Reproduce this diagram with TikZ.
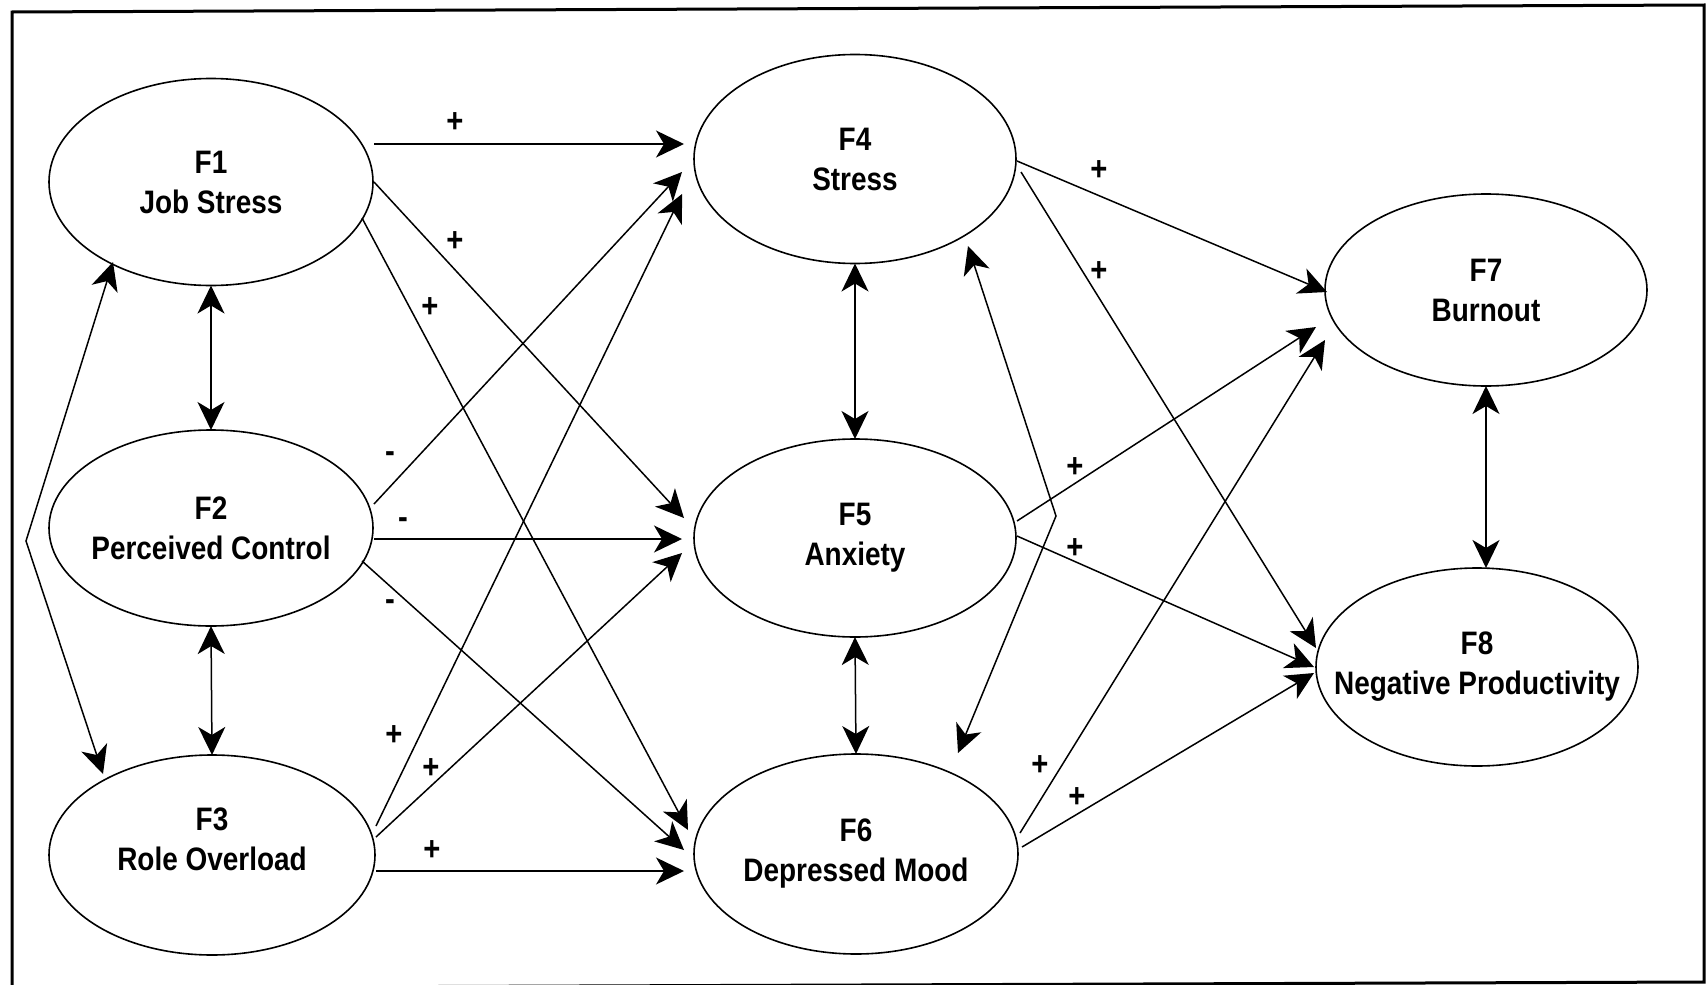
\documentclass[tikz,border=0pt]{standalone}
\usepackage{fontspec}
\setmainfont{Liberation Sans}[FakeStretch=0.86]
\usetikzlibrary{arrows.meta,calc,shapes.geometric}
\begin{document}
\begin{tikzpicture}[x=1pt,y=-1pt,
  fac/.style={draw, ellipse, line width=1.6pt, inner sep=0pt, outer sep=0pt},
  lab/.style={align=center, font=\fontsize{32.5}{40}\selectfont\bfseries, inner sep=0pt},
  sgn/.style={font=\fontsize{34}{34}\selectfont\bfseries, inner sep=0pt},
  arr/.style={line width=1.5pt, -{Stealth[length=28pt,width=27pt,inset=8pt]}},
  dbl/.style={line width=1.5pt, {Stealth[length=28pt,width=27pt,inset=8pt]}-{Stealth[length=28pt,width=27pt,inset=8pt]}},
]
\useasboundingbox (0,0) rectangle (1708,985);
% outer frame
\draw[line width=3pt] (12,12) -- (1704,5) -- (1704,982) -- (12,988) -- cycle;

% factors
\node[fac, minimum width=324pt, minimum height=207pt] (F1) at (211,182) {};
\node[fac, minimum width=324pt, minimum height=196pt] (F2) at (211,528) {};
\node[fac, minimum width=326pt, minimum height=200pt] (F3) at (212,855) {};
\node[fac, minimum width=322pt, minimum height=209pt] (F4) at (855,159) {};
\node[fac, minimum width=322pt, minimum height=198pt] (F5) at (855,538) {};
\node[fac, minimum width=324pt, minimum height=200pt] (F6) at (856,854) {};
\node[fac, minimum width=322pt, minimum height=192pt] (F7) at (1486,290) {};
\node[fac, minimum width=322pt, minimum height=198pt] (F8) at (1477,667) {};

\node[lab] (T1) at (F1) {F1\\Job Stress};
\node[lab] (T2) at (F2) {F2\\Perceived Control};
\node[lab] (T3) at ([yshift=16pt]F3.center) {F3\\Role Overload};
\node[lab] (T4) at (F4) {F4\\Stress};
\node[lab] (T5) at (F5) {F5\\Anxiety};
\node[lab] (T6) at (F6) {F6\\Depressed Mood};
\node[lab] (T7) at (F7) {F7\\Burnout};
\node[lab] (T8) at (F8) {F8\\Negative Productivity};

% correlations between factors
\draw[dbl] (F1.south) -- (F2.north);
\draw[dbl] (F2.south) -- (F3.north);
\draw[dbl] (F4.south) -- (F5.north);
\draw[dbl] (F5.south) -- (F6.north);
\draw[dbl] (F7.south) -- (F7.south |- F8.north);
\coordinate (lb) at (26,541);
\draw[dbl] ([shift={(-98,80)}]F1.center) -- (lb) -- ([shift={(-109,-81)}]F3.center);
\coordinate (rb) at (1056,516);
\draw[dbl] ([shift={(113,87)}]F4.center) -- (rb) -- ([shift={(102,-101)}]F6.center);

% paths from the work factors
\draw[arr] ([shift={(163,-38)}]F1.center) -- ([shift={(-171,-15)}]F4.center);
\draw[arr] ([shift={(163,0)}]F1.center) -- ([shift={(-171,-20)}]F5.center);
\draw[arr] ([shift={(151,36)}]F1.center) -- ([shift={(-168,-24)}]F6.center);
\draw[arr] ([shift={(163,-24)}]F2.center) -- ([shift={(-173,13)}]F4.center);
\draw[arr] ([shift={(163,11)}]F2.center) -- ([shift={(-173,1)}]F5.center);
\draw[arr] ([shift={(151,33)}]F2.center) -- ([shift={(-172,-4)}]F6.center);
\draw[arr] ([shift={(164,-29)}]F3.center) -- ([shift={(-173,35)}]F4.center);
\draw[arr] ([shift={(164,-18)}]F3.center) -- ([shift={(-173,15)}]F5.center);
\draw[arr] ([shift={(164,16)}]F3.center) -- ([shift={(-172,17)}]F6.center);

% paths to the outcomes
\draw[arr] ([shift={(162,2)}]F4.center) -- ([shift={(-159,2)}]F7.center);
\draw[arr] ([shift={(166,13)}]F4.center) -- ([shift={(-161,-19)}]F8.center);
\draw[arr] ([shift={(162,-17)}]F5.center) -- ([shift={(-170,37)}]F7.center);
\draw[arr] ([shift={(162,-2)}]F5.center) -- ([shift={(-163,0)}]F8.center);
\draw[arr] ([shift={(164,-21)}]F6.center) -- ([shift={(-161,50)}]F7.center);
\draw[arr] ([shift={(166,-7)}]F6.center) -- ([shift={(-163,6)}]F8.center);

% signs of the paths
\node[sgn] (s14) at (455,123) {+};
\node[sgn] (s15) at (455,242) {+};
\node[sgn] (s16) at (430,308) {+};
\node[sgn] (s24) at (390,457) {-};
\node[sgn] (s25) at (403,523) {-};
\node[sgn] (s26) at (390,605) {-};
\node[sgn] (s34) at (394,736) {+};
\node[sgn] (s35) at (431,769) {+};
\node[sgn] (s36) at (432,851) {+};
\node[sgn] (s47) at (1099,171) {+};
\node[sgn] (s48) at (1099,272) {+};
\node[sgn] (s57) at (1075,468) {+};
\node[sgn] (s58) at (1075,549) {+};
\node[sgn] (s67) at (1040,766) {+};
\node[sgn] (s68) at (1077,798) {+};
\end{tikzpicture}
\end{document}
